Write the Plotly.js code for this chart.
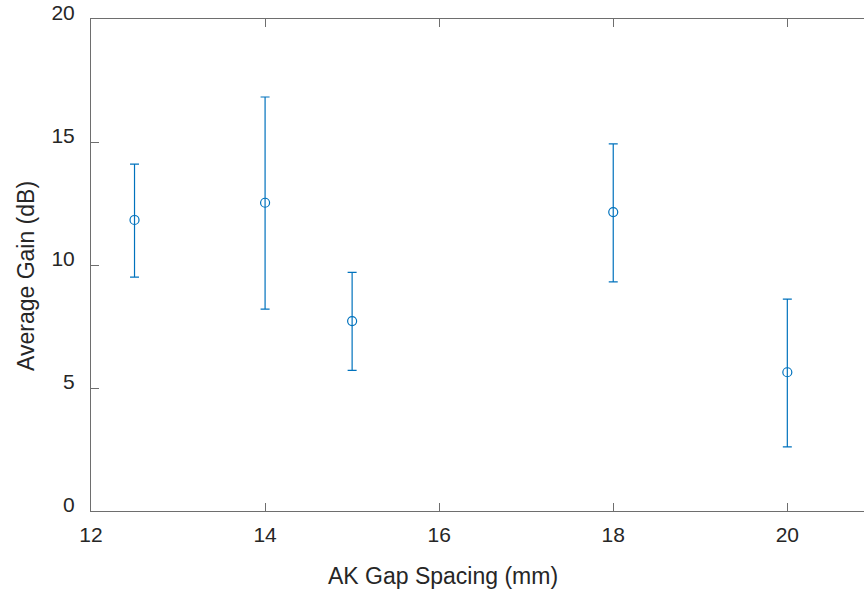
<!DOCTYPE html>
<html>
<head>
<meta charset="utf-8">
<script src="https://cdn.plot.ly/plotly-3.0.1.min.js"></script>
<style>html,body{margin:0;padding:0;background:#fff;overflow:hidden;}#chart{width:864px;height:591px;overflow:hidden;}</style>
</head>
<body>
<div id="chart"></div>
<script>
const gapSpacing = [12.5, 14, 15, 18, 20];
const avgGain = [11.83, 12.53, 7.72, 12.15, 5.64];
const errPlus = [2.27, 4.30, 1.98, 2.77, 2.97];
const errMinus = [2.32, 4.32, 2.00, 2.84, 3.03];
const xTicks = [12, 14, 16, 18, 20];
const yTicks = [0, 5, 10, 15, 20];
const xTitle = 'AK Gap Spacing (mm)';
const yTitle = 'Average Gain (dB)';

const blue = '#0072BD';
const trace = {
  x: gapSpacing,
  y: avgGain,
  type: 'scatter',
  mode: 'markers',
  marker: {symbol: 'circle-open', size: 9, color: blue, line: {width: 1.2, color: blue}},
  error_y: {type: 'data', symmetric: false, array: errPlus, arrayminus: errMinus,
            color: blue, thickness: 1.2, width: 4.5},
  hoverinfo: 'skip'
};
const fam = 'Liberation Sans, Arial, Helvetica, sans-serif';
const tickFont = {family: fam, size: 21, color: '#262626'};
const titleFont = {family: fam, size: 23, color: '#262626'};
const W = 900, L = 91;
const layout = {
  width: W, height: 591,
  margin: {l: L, r: 0, t: 19, b: 80},
  paper_bgcolor: '#fff', plot_bgcolor: '#fff',
  showlegend: false,
  font: tickFont,
  xaxis: {
    range: [12, 12 + (W - L) / 87.04], tickvals: xTicks, ticktext: xTicks.map(String),
    showgrid: false, zeroline: false, showline: true, linecolor: '#6e6e6e', linewidth: 1,
    mirror: 'ticks', ticks: 'inside', ticklen: 8, tickcolor: '#6e6e6e', tickwidth: 1,
    tickfont: tickFont, ticklabelstandoff: 5
  },
  yaxis: {
    range: [0, 20], tickvals: yTicks, ticktext: yTicks.map(String),
    showgrid: false, zeroline: false, showline: true, linecolor: '#6e6e6e', linewidth: 1,
    ticks: 'inside', ticklen: 8, tickcolor: '#6e6e6e', tickwidth: 1,
    tickfont: tickFont, ticklabelstandoff: 11, ticklabelshift: -6
  },
  annotations: [
    {text: xTitle, xref: 'paper', yref: 'paper', x: (443 - L) / (W - L), y: -(576 - 511) / 492,
     xanchor: 'center', yanchor: 'middle', showarrow: false, font: titleFont},
    {text: yTitle, xref: 'paper', yref: 'paper', x: -(L - 26) / (W - L), y: (511 - 276) / 492,
     xanchor: 'center', yanchor: 'middle', textangle: -90, showarrow: false, font: titleFont}
  ]
};
Plotly.newPlot('chart', [trace], layout, {staticPlot: true, displayModeBar: false});
</script>
</body>
</html>
